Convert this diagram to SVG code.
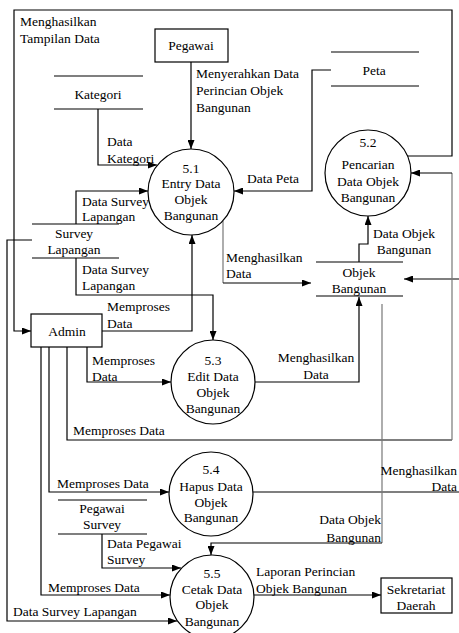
<svg xmlns="http://www.w3.org/2000/svg" width="459" height="633" viewBox="0 0 459 633" font-family="'Liberation Serif', 'Times New Roman', serif" font-size="13.5">
<defs>
<marker id="ah" markerUnits="userSpaceOnUse" markerWidth="9" markerHeight="7" refX="9" refY="3.5" orient="auto">
<path d="M0,0 L9,3.5 L0,7 z" fill="#000"/>
</marker>
<style>
text{font-family:'Liberation Serif','Times New Roman',serif;font-size:13.5px;fill:#000}
.m{text-anchor:middle}
.e{text-anchor:end}
.c line,.c path{fill:none;stroke:#000;stroke-width:1.2}
.c .g{stroke:#777}
.n circle,.n rect{fill:#fff;stroke:#000;stroke-width:1.2}
.n line{stroke:#000;stroke-width:1.2}
</style>
</defs>
<rect width="459" height="633" fill="#fff"/>
<g class="c" id="connectors">
<path d="M407,156 H452 V10 H14 V331 H31" marker-end="url(#ah)"/>
<path d="M191,62 V149" marker-end="url(#ah)"/>
<path d="M98,109 V165 H157" marker-end="url(#ah)"/>
<path d="M76,224 V191 H148" marker-end="url(#ah)"/>
<path d="M331,70 H312 V191 H234" marker-end="url(#ah)"/>
<path d="M102,331 H192 V235" marker-end="url(#ah)"/>
<path class="g" d="M223,221 V283"/>
<path d="M223,283 H311" marker-end="url(#ah)"/>
<path d="M359,262 V244 H368 V216" marker-end="url(#ah)"/>
<path d="M459,279 H404" marker-end="url(#ah)"/>
<path d="M76,258 V295 H213 V340" marker-end="url(#ah)"/>
<path d="M87,347 V382 H171" marker-end="url(#ah)"/>
<path d="M255,382 H359 V297" marker-end="url(#ah)"/>
<path d="M67,347 V440 H452"/>
<path class="g" d="M452,440 V173"/>
<path d="M452,173 H411" marker-end="url(#ah)"/>
<path d="M49,347 V492 H169" marker-end="url(#ah)"/>
<path d="M253,492 H459"/>
<path class="g" d="M382,304 V543"/>
<path d="M382,543 H211 V555" marker-end="url(#ah)"/>
<path d="M102,534 V568 H181" marker-end="url(#ah)"/>
<path d="M41,347 V595 H170" marker-end="url(#ah)"/>
<path d="M32,240 H7 V621 H177" marker-end="url(#ah)"/>
<path d="M254,595 H381" marker-end="url(#ah)"/>
</g>
<g id="labels">
<text x="20" y="26">Menghasilkan</text>
<text x="20" y="43">Tampilan Data</text>
<text x="196" y="78">Menyerahkan Data</text>
<text x="196" y="95">Perincian Objek</text>
<text x="196" y="112">Bangunan</text>
<text x="107" y="146">Data</text>
<text x="107" y="163">Kategori</text>
<text x="247" y="183">Data Peta</text>
<text x="82" y="206">Data Survey</text>
<text x="82" y="221">Lapangan</text>
<text x="404" y="238" class="m">Data Objek</text>
<text x="404" y="254" class="m">Bangunan</text>
<text x="226" y="262">Menghasilkan</text>
<text x="226" y="278">Data</text>
<text x="82" y="274">Data Survey</text>
<text x="82" y="290">Lapangan</text>
<text x="107" y="311">Memproses</text>
<text x="107" y="328">Data</text>
<text x="92" y="365">Memproses</text>
<text x="92" y="381">Data</text>
<text x="316" y="362" class="m">Menghasilkan</text>
<text x="316" y="379" class="m">Data</text>
<text x="73" y="435">Memproses Data</text>
<text x="457" y="475" class="e">Menghasilkan</text>
<text x="457" y="491" class="e">Data</text>
<text x="57" y="488">Memproses Data</text>
<text x="381" y="524" class="e">Data Objek</text>
<text x="381" y="542" class="e">Bangunan</text>
<text x="107" y="548">Data Pegawai</text>
<text x="107" y="564">Survey</text>
<text x="256" y="576">Laporan Perincian</text>
<text x="256" y="593">Objek Bangunan</text>
<text x="48" y="592">Memproses Data</text>
<text x="13" y="616">Data Survey Lapangan</text>
</g>
<g id="pegawai" class="n">
<rect x="155" y="29" width="73" height="33"/>
<text x="191" y="50" class="m">Pegawai</text>
</g>
<g id="kategori" class="n">
<line x1="54" y1="76" x2="143" y2="76"/>
<line x1="54" y1="109" x2="143" y2="109"/>
<text x="98" y="99" class="m">Kategori</text>
</g>
<g id="peta" class="n">
<line x1="331" y1="52" x2="419" y2="52"/>
<line x1="331" y1="86" x2="419" y2="86"/>
<text x="374" y="75" class="m">Peta</text>
</g>
<g id="p51" class="n">
<circle cx="191" cy="192" r="43"/>
<text x="191" y="173" class="m">5.1</text>
<text x="191" y="188" class="m">Entry Data</text>
<text x="191" y="204" class="m">Objek</text>
<text x="191" y="220" class="m">Bangunan</text>
</g>
<g id="p52" class="n">
<circle cx="368" cy="173" r="43"/>
<text x="368" y="147" class="m">5.2</text>
<text x="368" y="169" class="m">Pencarian</text>
<text x="368" y="186" class="m">Data Objek</text>
<text x="368" y="202" class="m">Bangunan</text>
</g>
<g id="surveylapangan" class="n">
<line x1="32" y1="224" x2="119" y2="224"/>
<line x1="32" y1="258" x2="119" y2="258"/>
<text x="74" y="238" class="m">Survey</text>
<text x="74" y="254" class="m">Lapangan</text>
</g>
<g id="objekbangunan" class="n">
<line x1="316" y1="262" x2="403" y2="262"/>
<line x1="316" y1="296" x2="403" y2="296"/>
<text x="359" y="277" class="m">Objek</text>
<text x="359" y="293" class="m">Bangunan</text>
</g>
<g id="admin" class="n">
<rect x="31" y="314" width="71" height="33"/>
<text x="67" y="336" class="m">Admin</text>
</g>
<g id="p53" class="n">
<circle cx="213" cy="382" r="42"/>
<text x="213" y="365" class="m">5.3</text>
<text x="213" y="381" class="m">Edit Data</text>
<text x="213" y="397" class="m">Objek</text>
<text x="213" y="413" class="m">Bangunan</text>
</g>
<g id="p54" class="n">
<circle cx="211" cy="494" r="42"/>
<text x="211" y="474" class="m">5.4</text>
<text x="211" y="491" class="m">Hapus Data</text>
<text x="211" y="507" class="m">Objek</text>
<text x="211" y="522" class="m">Bangunan</text>
</g>
<g id="pegawaisurvey" class="n">
<line x1="58" y1="500" x2="147" y2="500"/>
<line x1="58" y1="534" x2="147" y2="534"/>
<text x="102" y="513" class="m">Pegawai</text>
<text x="102" y="529" class="m">Survey</text>
</g>
<g id="p55" class="n">
<circle cx="212" cy="597" r="42"/>
<text x="212" y="578" class="m">5.5</text>
<text x="212" y="594" class="m">Cetak Data</text>
<text x="212" y="609" class="m">Objek</text>
<text x="212" y="626" class="m">Bangunan</text>
</g>
<g id="sekretariat" class="n">
<rect x="381" y="578" width="71" height="35"/>
<text x="416" y="594" class="m">Sekretariat</text>
<text x="416" y="610" class="m">Daerah</text>
</g>
</svg>
